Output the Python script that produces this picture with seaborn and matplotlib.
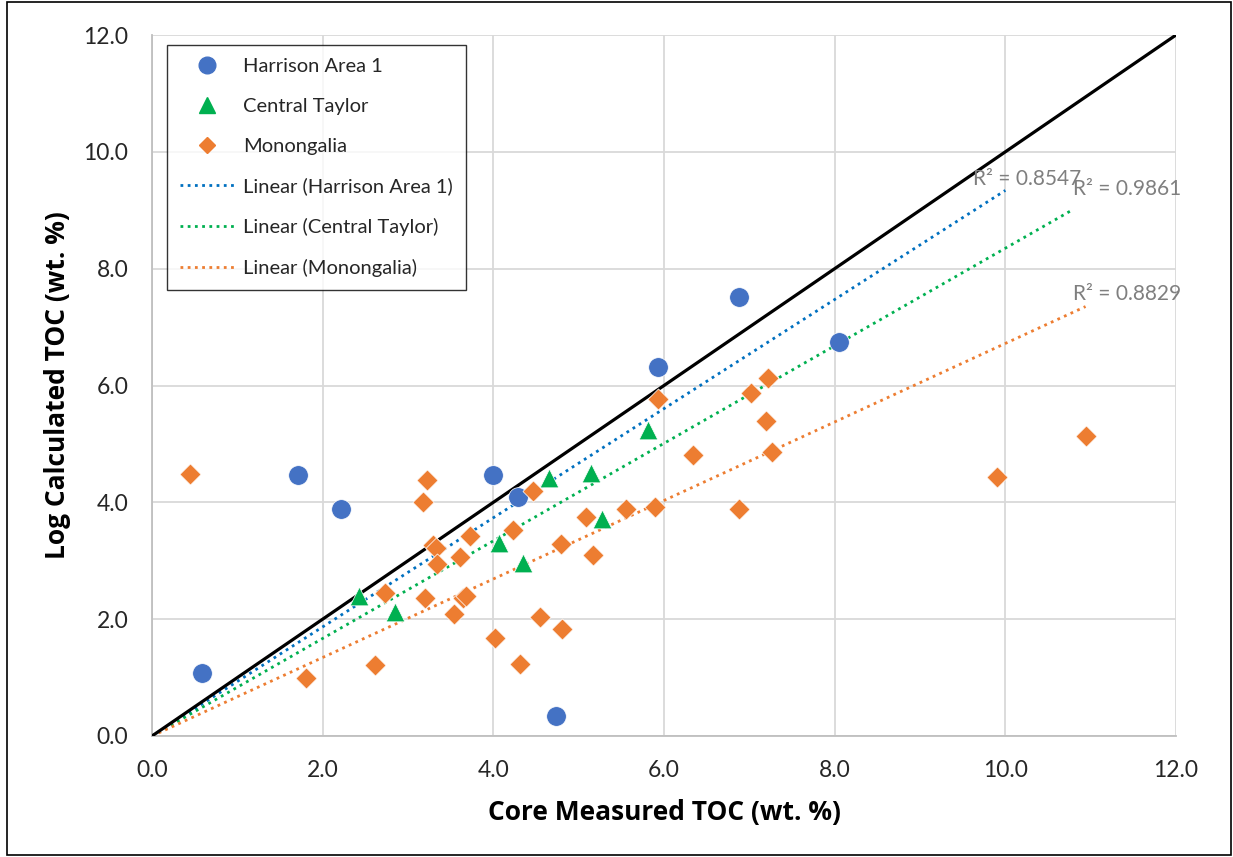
import matplotlib
matplotlib.use("Agg")
import matplotlib.pyplot as plt
import seaborn as sns
import pandas as pd
import numpy as np
from matplotlib.lines import Line2D
from matplotlib.patches import Rectangle

# ---- data ----
harrison_x = [0.59, 1.71, 2.22, 4.00, 4.29, 4.73, 5.93, 6.88, 8.05]
harrison_y = [1.07, 4.46, 3.89, 4.47, 4.09, 0.34, 6.31, 7.51, 6.75]

taylor_x = [2.43, 2.85, 4.07, 4.35, 4.65, 5.14, 5.27, 5.81]
taylor_y = [2.39, 2.12, 3.31, 2.97, 4.41, 4.50, 3.72, 5.23]

mono_x = [0.44, 1.80, 2.61, 2.73, 3.20, 3.22, 3.18, 3.29, 3.33, 3.34, 3.54, 3.61, 3.65, 3.68,
          3.73, 4.02, 4.23, 4.31, 4.46, 4.55, 4.79, 4.80, 5.09, 5.17, 5.56, 5.89, 5.93, 6.34,
          6.88, 7.02, 7.20, 7.22, 7.27, 9.90, 10.94]
mono_y = [4.48, 0.99, 1.21, 2.45, 2.36, 4.39, 4.01, 3.27, 3.21, 2.94, 2.08, 3.06, 2.36, 2.39,
          3.42, 1.68, 3.53, 1.24, 4.20, 2.04, 3.29, 1.83, 3.75, 3.09, 3.89, 3.92, 5.77, 4.81,
          3.89, 5.88, 5.40, 6.12, 4.87, 4.43, 5.14]

series = ["Harrison Area 1", "Central Taylor", "Monongalia"]
trend_slope = [0.934, 0.835, 0.672]
trend_end_x = [10.0, 10.78, 10.94]
r2_labels = ["R² = 0.8547", "R² = 0.9861", "R² = 0.8829"]
ticks = [0.0, 2.0, 4.0, 6.0, 8.0, 10.0, 12.0]

# ---- style ----
sns.set_theme(style="white")
plt.rcParams['font.family'] = ['Lato', 'DejaVu Sans']

marker_colors = ["#4472C4", "#00B050", "#ED7D31"]
line_colors = ["#0070C0", "#00B050", "#ED7D31"]
markers = ["o", "^", "D"]
sizes = [200, 180, 115]

fig = plt.figure(figsize=(12.33, 8.57), dpi=100)
ax = fig.add_axes([152/1233, 1-736/857, (1176-152)/1233, (736-35)/857])

xs = [harrison_x, taylor_x, mono_x]
ys = [harrison_y, taylor_y, mono_y]

# identity line
ax.plot([0, 12], [0, 12], color="black", lw=2.3, zorder=3)

# trend lines
for i in range(3):
    tx = [0, trend_end_x[i]]
    ty = [0, trend_slope[i] * trend_end_x[i]]
    ax.plot(tx, ty, color=line_colors[i], lw=2.0, linestyle=(0, (1, 1.6)), zorder=2)

# scatter points
for i in range(3):
    df = pd.DataFrame({"x": xs[i], "y": ys[i]})
    sns.scatterplot(data=df, x="x", y="y", ax=ax, color=marker_colors[i], marker=markers[i],
                    s=sizes[i], edgecolor="white", linewidth=0.5, zorder=4)

# R² labels
r2_pos = [(9.62, 9.53), (10.79, 9.36), (10.79, 7.56)]
for lab, (px, py) in zip(r2_labels, r2_pos):
    ax.text(px, py, lab, color="#7F7F7F", fontsize=15, ha="left", va="center", zorder=5)

ax.set_xlim(0, 12)
ax.set_ylim(0, 12)
ax.set_xticks(ticks)
ax.set_yticks(ticks)
ax.set_xticklabels([f"{t:.1f}" for t in ticks], fontsize=16.5, color="#262626")
ax.set_yticklabels([f"{t:.1f}" for t in ticks], fontsize=16.5, color="#262626")
ax.tick_params(axis="x", length=0, pad=17)
ax.tick_params(axis="y", length=0, pad=17)
ax.grid(True, color="#D9D9D9", lw=1.3)
ax.set_axisbelow(True)
for s in ["top", "right"]:
    ax.spines[s].set_visible(False)
for s in ["left", "bottom"]:
    ax.spines[s].set_color("#BFBFBF")
    ax.spines[s].set_linewidth(1.3)

ax.set_xlabel("Core Measured TOC (wt. %)", fontsize=19, fontweight="bold",
              family=["Open Sans", "DejaVu Sans"], labelpad=13, color="#000000")
ax.set_ylabel("Log Calculated TOC (wt. %)", fontsize=19, fontweight="bold",
              family=["Open Sans", "DejaVu Sans"], labelpad=9, color="#000000")

# legend
handles = []
for i in range(3):
    handles.append(Line2D([], [], linestyle="none", marker=markers[i], color=marker_colors[i],
                          markersize=[12, 11, 8.5][i], label=series[i]))
for i in range(3):
    handles.append(Line2D([], [], color=line_colors[i], lw=2.0, linestyle=(0, (1, 1.6)),
                          label=f"Linear ({series[i]})"))
leg = ax.legend(handles=handles, loc="upper left", bbox_to_anchor=(0.0146, 0.986),
                borderaxespad=0, fontsize=14.5, frameon=True, fancybox=False,
                edgecolor="black", labelspacing=1.13, handlelength=2.7, borderpad=0.65,
                handletextpad=0.45)
leg.get_frame().set_linewidth(1.0)
leg.set_zorder(6)

# outer border
fig.patches.append(Rectangle((7/1233, 2/857), 1224/1233, 853/857, transform=fig.transFigure,
                             fill=False, edgecolor="black", lw=1.2))

fig.savefig("out.png", dpi=100)
